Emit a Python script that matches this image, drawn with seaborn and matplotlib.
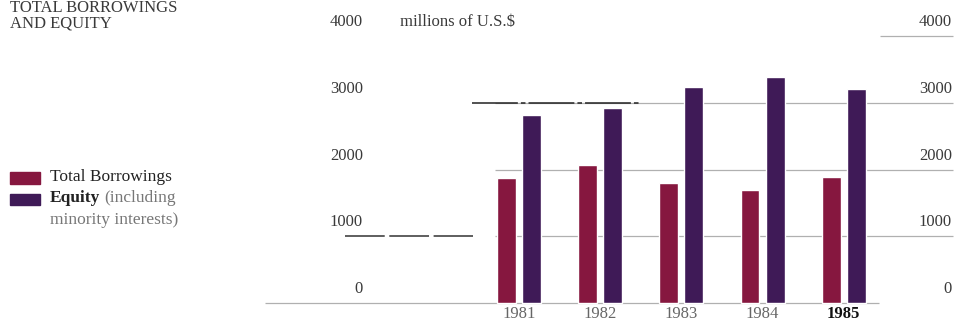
"""Total borrowings and equity bar chart, 1981-1985."""

import matplotlib
matplotlib.use("Agg")
import matplotlib.pyplot as plt
import seaborn as sns
import pandas as pd
from matplotlib.patches import Rectangle

years = ["1981", "1982", "1983", "1984", "1985"]
borrowings = [1870, 2070, 1800, 1695, 1890]
equity = [2820, 2925, 3240, 3390, 3210]
series = ["Total Borrowings", "Equity"]
grid_values = [1000, 2000, 3000]
tick_values = [0, 1000, 2000, 3000, 4000]

RED = "#86173f"
PURPLE = "#3f1a57"
GRID = "#b0b0b0"
TEXT = "#3a3a3a"

df = pd.DataFrame({
    "year": years * 2,
    "value": borrowings + equity,
    "series": [series[0]] * len(years) + [series[1]] * len(years),
})

sns.set_theme(style="white")
plt.rcParams["font.family"] = ["Liberation Serif", "DejaVu Serif"]

fig = plt.figure(figsize=(9.55, 3.25), dpi=100)
ax = fig.add_axes([0, 0, 1, 1])

# gridlines first so bars sit on top
ax.hlines(grid_values, -0.30, 5.34, color=GRID, lw=0.9, zorder=0)
ax.hlines(0, -3.13, 4.44, color=GRID, lw=0.9, zorder=0)
ax.hlines(4000, 4.45, 5.34, color=GRID, lw=0.9, zorder=0)
ax.hlines(3000, -0.58, 1.50, color="#222222", lw=1.1,
          linestyles=(0, (30, 2, 3, 2)), zorder=0)
ax.hlines(1000, -2.14, -0.57, color="#333333", lw=1.1,
          linestyles=(0, (26, 3)), zorder=0)

sns.barplot(data=df, x="year", y="value", hue="series",
            palette=[RED, PURPLE], width=0.62, gap=0.25,
            saturation=1, legend=False, ax=ax, zorder=2)

ax.set_xlim(-6.39, 5.37)
ax.set_ylim(-330, 4545)
ax.axis("off")

# y labels sit above their gridlines, on both sides
for v in tick_values:
    ax.text(-1.92, v + 210, str(v), ha="right", va="center",
            fontsize=12, color=TEXT)
    ax.text(5.33, v + 210, str(v), ha="right", va="center",
            fontsize=12, color=TEXT)

ax.text(-1.47, 4210, "millions of U.S.$", ha="left", va="center",
        fontsize=12, color=TEXT)

for i, y in enumerate(years):
    last = i == len(years) - 1
    ax.text(i, -165, y, ha="center", va="center", fontsize=12,
            color="#111111" if last else "#666666",
            fontweight="bold" if last else "normal")

# title
fig.text(0.010, 1 - 8 / 325, "TOTAL BORROWINGS", ha="left", va="center",
         fontsize=12, color=TEXT)
fig.text(0.010, 1 - 24 / 325, "AND EQUITY", ha="left", va="center",
         fontsize=12, color=TEXT)

# legend
fig.patches.append(Rectangle((10 / 955, 1 - 184 / 325), 30 / 955, 12 / 325,
                             transform=fig.transFigure, color=RED))
fig.patches.append(Rectangle((10 / 955, 1 - 205 / 325), 30 / 955, 11 / 325,
                             transform=fig.transFigure, color=PURPLE))
fig.text(50 / 955, 1 - 177 / 325, "Total Borrowings", ha="left", va="center",
         fontsize=12.5, color="#222222")
fig.text(50 / 955, 1 - 198 / 325, "Equity", ha="left", va="center",
         fontsize=12.5, color="#222222", fontweight="bold")
fig.text(104 / 955, 1 - 198 / 325, "(including", ha="left", va="center",
         fontsize=12.5, color="#777777")
fig.text(50 / 955, 1 - 220 / 325, "minority interests)", ha="left",
         va="center", fontsize=12.5, color="#777777")

fig.savefig("out.png", dpi=100)
